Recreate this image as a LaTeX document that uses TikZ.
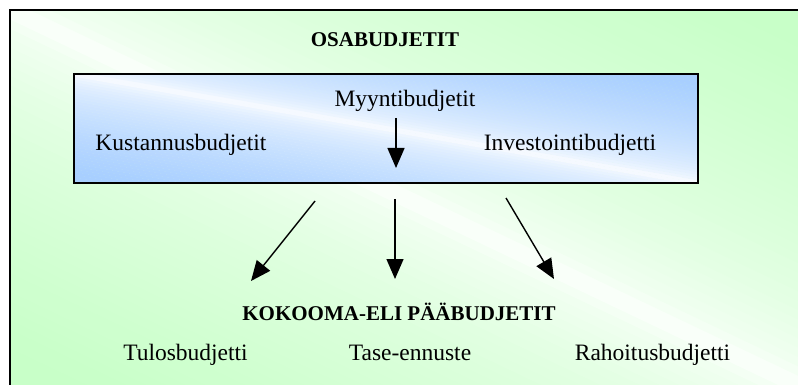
\documentclass[tikz,border=0pt]{standalone}
\usepackage{fontspec}
\setmainfont{Liberation Serif}
\usetikzlibrary{arrows.meta}
\definecolor{bggreen}{HTML}{C8FFC8}
\definecolor{boxblue}{HTML}{A8CFFF}
\tikzset{
  lbl/.style={font=\fontsize{23.5}{28}\selectfont, inner sep=0pt, anchor=base},
  ttl/.style={font=\fontsize{21}{25}\selectfont\bfseries, inner sep=0pt, anchor=base},
  arr/.style={line width=1.4pt, -{Triangle[length=20pt,width=17pt]}}
}
% diagonal gradient: white along top-left/bottom-right diagonal, colour at the other corners
\newcommand\diaggrad[5]{%
  \begin{scope}
  \clip (#1,#2) rectangle ++(#3,#4);
  \foreach \i in {-40,...,39}{%
    \pgfmathsetmacro\tt{\i/40}%
    \pgfmathsetmacro\tn{(\i+1.1)/40}%
    \pgfmathsetmacro\pp{min(100,sqrt(abs((\i+0.5)/40))*105)}%
    \fill[#5!\pp!white]
      ({#1+(\tt-1)*#3},{#2-#4}) -- ({#1+(\tt+2)*#3},{#2+2*#4}) --
      ({#1+(\tn+2)*#3},{#2+2*#4}) -- ({#1+(\tn-1)*#3},{#2-#4}) -- cycle;
  }
  \end{scope}}
\begin{document}
\begin{tikzpicture}[x=1pt,y=-1pt]
\useasboundingbox (0,0) rectangle (798,385);
\clip (0,0) rectangle (798,385);
\fill[white] (0,0) rectangle (798,385);
% outer background
\diaggrad{10}{10}{790}{376}{bggreen}
\draw[line width=1.5pt] (10,400) -- (10,10) -- (820,10);
% inner box
\diaggrad{74}{74}{624}{109}{boxblue}
\draw[line width=1.5pt] (74,74) rectangle (698,183);
% texts
\node[ttl] (osa) at (385,47) {OSABUDJETIT};
\node[lbl] (myy) at (405,107) {Myyntibudjetit};
\node[lbl] (kus) at (181,150) {Kustannusbudjetit};
\node[lbl] (inv) at (570,150) {Investointibudjetti};
\node[ttl] (kok) at (399,320) {KOKOOMA-ELI PÄÄBUDJETIT};
\node[lbl] (tul) at (185.5,360) {Tulosbudjetti};
\node[lbl] (tas) at (410,360) {Tase-ennuste};
\node[lbl] (rah) at (652.5,360) {Rahoitusbudjetti};
% arrow anchors
\coordinate (a0s) at (396,118);
\coordinate (a0e) at (396,168);
\coordinate (a1s) at (315,201);
\coordinate (a1e) at (251,281);
\coordinate (a2s) at (395,199);
\coordinate (a2e) at (395,279);
\coordinate (a3s) at (506,198);
\coordinate (a3e) at (554,279);
\draw[arr] (a0s) -- (a0e);
\draw[arr] (a1s) -- (a1e);
\draw[arr] (a2s) -- (a2e);
\draw[arr] (a3s) -- (a3e);
\end{tikzpicture}
\end{document}
